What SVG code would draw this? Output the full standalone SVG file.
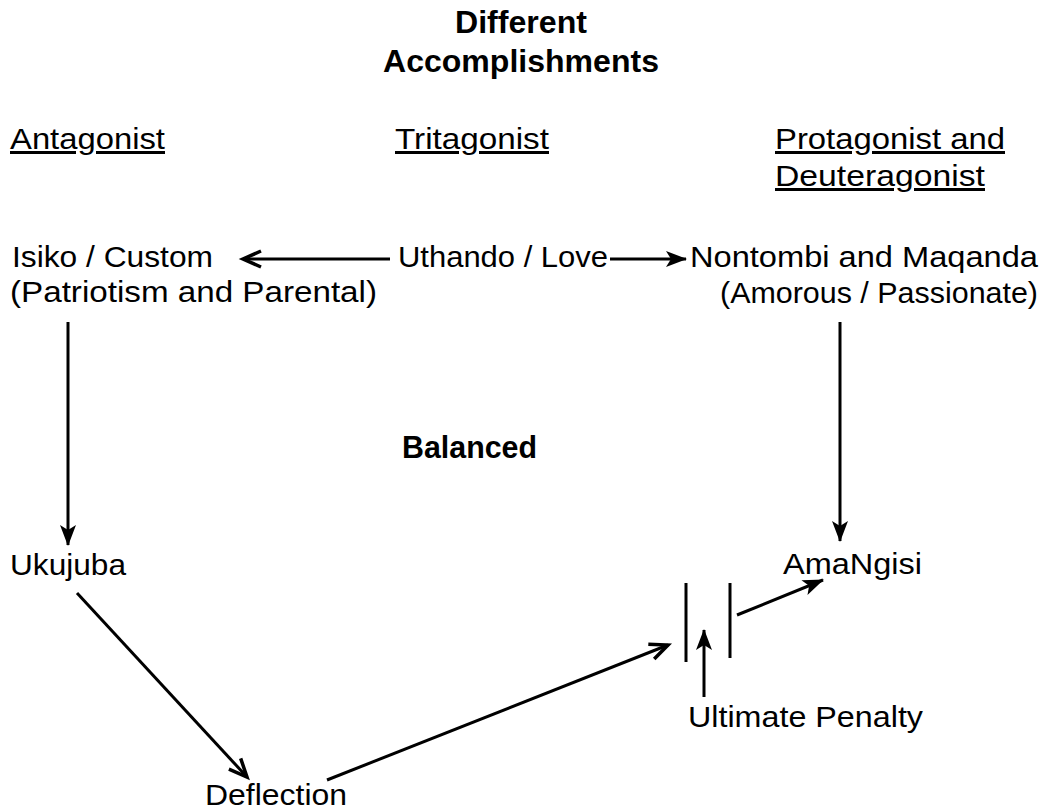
<svg xmlns="http://www.w3.org/2000/svg" width="1044" height="809" viewBox="0 0 1044 809">
<style>
text{font-family:"Liberation Sans",Arial,sans-serif;font-size:30px;fill:#000}
.b{font-weight:bold;font-size:31px}
.u{text-decoration:underline}
.c line,.c path{stroke:#000;fill:none;stroke-width:3}
</style>
<defs>
<marker id="fa" markerUnits="userSpaceOnUse" markerWidth="22" markerHeight="18" refX="20" refY="8" orient="auto" overflow="visible">
<path d="M0,0 L21,8 L0,16 L5,8 z" fill="#000" stroke="none"/>
</marker>
<marker id="ch" markerUnits="userSpaceOnUse" markerWidth="24" markerHeight="20" refX="20" refY="9" orient="auto" overflow="visible">
<path d="M2,1 L20,9 L2,17" fill="none" stroke="#000" stroke-width="3.5" stroke-linejoin="miter"/>
</marker>
</defs>
<rect width="1044" height="809" fill="#fff"/>
<g id="title">
<text class="b" x="455" y="33" textLength="132" lengthAdjust="spacingAndGlyphs">Different</text>
<text class="b" x="383" y="72" textLength="276" lengthAdjust="spacingAndGlyphs">Accomplishments</text>
</g>
<g id="antagonist"><text class="u" x="10" y="149" textLength="155" lengthAdjust="spacingAndGlyphs">Antagonist</text></g>
<g id="tritagonist"><text class="u" x="395" y="149" textLength="154" lengthAdjust="spacingAndGlyphs">Tritagonist</text></g>
<g id="protagonist">
<text class="u" x="775" y="149" textLength="230" lengthAdjust="spacingAndGlyphs">Protagonist and</text>
<text class="u" x="775" y="186" textLength="210" lengthAdjust="spacingAndGlyphs">Deuteragonist</text>
</g>
<g id="isiko">
<text x="12" y="267" textLength="201" lengthAdjust="spacingAndGlyphs">Isiko / Custom</text>
<text x="10" y="302" textLength="367" lengthAdjust="spacingAndGlyphs">(Patriotism and Parental)</text>
</g>
<g id="uthando"><text x="398" y="267" textLength="210" lengthAdjust="spacingAndGlyphs">Uthando / Love</text></g>
<g id="nontombi">
<text x="690" y="267" textLength="348" lengthAdjust="spacingAndGlyphs">Nontombi and Maqanda</text>
<text x="720" y="303" textLength="318" lengthAdjust="spacingAndGlyphs">(Amorous / Passionate)</text>
</g>
<g id="balanced"><text class="b" x="402" y="458" textLength="135" lengthAdjust="spacingAndGlyphs">Balanced</text></g>
<g id="ukujuba"><text x="10" y="575" textLength="116" lengthAdjust="spacingAndGlyphs">Ukujuba</text></g>
<g id="amangisi"><text x="783" y="574" textLength="139" lengthAdjust="spacingAndGlyphs">AmaNgisi</text></g>
<g id="penalty"><text x="688" y="727" textLength="235" lengthAdjust="spacingAndGlyphs">Ultimate Penalty</text></g>
<g id="deflection"><text x="205" y="805" textLength="142" lengthAdjust="spacingAndGlyphs">Deflection</text></g>
<g id="bars" class="c">
<line x1="686" y1="583" x2="686" y2="662"/>
<line x1="730" y1="583" x2="730" y2="658"/>
</g>
<g id="connectors" class="c">
<line x1="390" y1="259" x2="243" y2="259" stroke-width="2" marker-end="url(#ch)"/>
<line x1="610" y1="259" x2="686" y2="259" stroke-width="2" marker-end="url(#fa)"/>
<line x1="68" y1="322" x2="68" y2="545" marker-end="url(#fa)"/>
<line x1="840" y1="322" x2="840" y2="541" marker-end="url(#fa)"/>
<line x1="77" y1="593" x2="247" y2="777" marker-end="url(#ch)"/>
<line x1="327" y1="780" x2="668" y2="645" marker-end="url(#ch)"/>
<line x1="704" y1="697" x2="704" y2="630" marker-end="url(#fa)"/>
<line x1="737" y1="615" x2="823" y2="580" marker-end="url(#fa)"/>
</g>
</svg>
